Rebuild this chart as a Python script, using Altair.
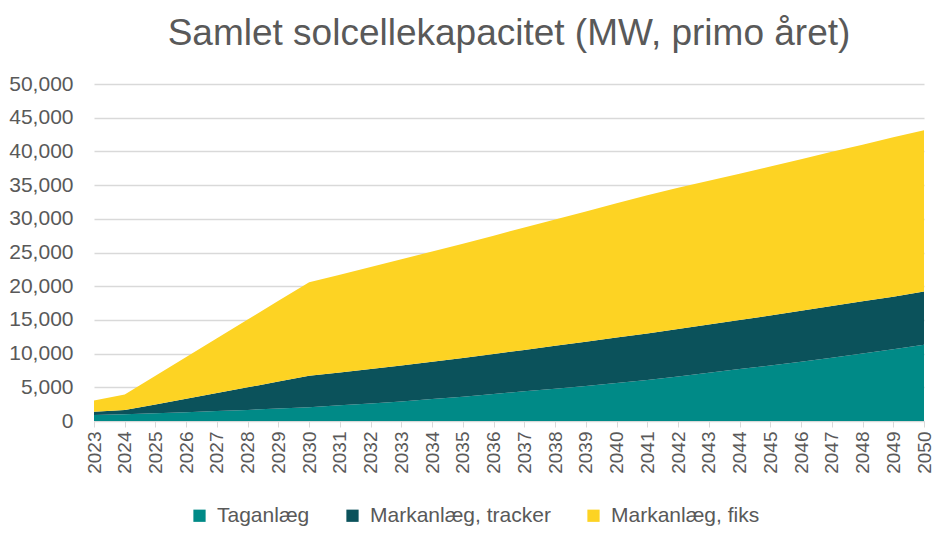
import altair as alt
import pandas as pd

years = list(range(2023, 2051))
taganlaeg = [900, 1000, 1150, 1300, 1480, 1650, 1850, 2050, 2350, 2600, 2900, 3250, 3600, 4000,
             4400, 4800, 5200, 5650, 6100, 6600, 7150, 7700, 8250, 8800, 9400, 10000, 10650, 11300]
tracker = [480, 630, 1300, 2000, 2670, 3350, 4000, 4650, 4850, 5100, 5350, 5550, 5750, 5950,
           6150, 6350, 6550, 6750, 6900, 7050, 7150, 7300, 7400, 7550, 7650, 7750, 7800, 7900]
fiks = [1670, 2320, 4275, 6200, 8125, 10050, 11975, 13900, 14500, 15150, 15750, 16350, 16950, 17550,
        18150, 18750, 19350, 19900, 20500, 20950, 21350, 21700, 22100, 22500, 22900, 23250, 23650, 23950]

series = ["Taganlæg", "Markanlæg, tracker", "Markanlæg, fiks"]
colors = ["#008A87", "#0B525B", "#FDD323"]

rows = []
for i, y in enumerate(years):
    for k, (name, vals) in enumerate(zip(series, [taganlaeg, tracker, fiks])):
        rows.append({"year": str(y), "series": name, "value": vals[i], "ord": k})
df = pd.DataFrame(rows)

chart = alt.Chart(df).mark_area().encode(
    x=alt.X("year:O", scale=alt.Scale(type="point", padding=0),
            axis=alt.Axis(title=None, labelAngle=-90, labelFontSize=19, labelColor="#595959",
                          labelFont="Liberation Sans", domainColor="#D9D9D9", tickColor="#D9D9D9",
                          tickSize=6, labelPadding=4, grid=False)),
    y=alt.Y("value:Q", stack="zero", scale=alt.Scale(domain=[0, 50000]),
            axis=alt.Axis(title=None, values=list(range(0, 50001, 5000)), format=",d",
                          labelFontSize=21, labelColor="#595959", labelFont="Liberation Sans",
                          domain=False, ticks=False, gridColor="#D9D9D9", gridWidth=1.5,
                          labelPadding=21)),
    color=alt.Color("series:N", scale=alt.Scale(domain=series, range=colors),
                    legend=alt.Legend(title=None, orient="none", legendX=95, legendY=421,
                                      direction="horizontal",
                                      symbolType="square", symbolSize=150, symbolStrokeWidth=0,
                                      labelFontSize=21, labelColor="#595959", labelFont="Liberation Sans",
                                      labelLimit=0, labelOffset=7, columnPadding=32)),
    order=alt.Order("ord:Q", sort="ascending"),
).properties(
    width=830, height=337,
    autosize=alt.AutoSizeParams(type="none"),
    padding={"left": 86, "top": 76, "right": 10, "bottom": 112},
    title=alt.TitleParams("Samlet solcellekapacitet (MW, primo året)", fontSize=37,
                          font="Liberation Sans", fontWeight="normal", color="#595959",
                          anchor="middle", offset=20),
).configure_view(stroke=None)

chart.save("out.html", embed_options={"renderer": "svg", "actions": False})
